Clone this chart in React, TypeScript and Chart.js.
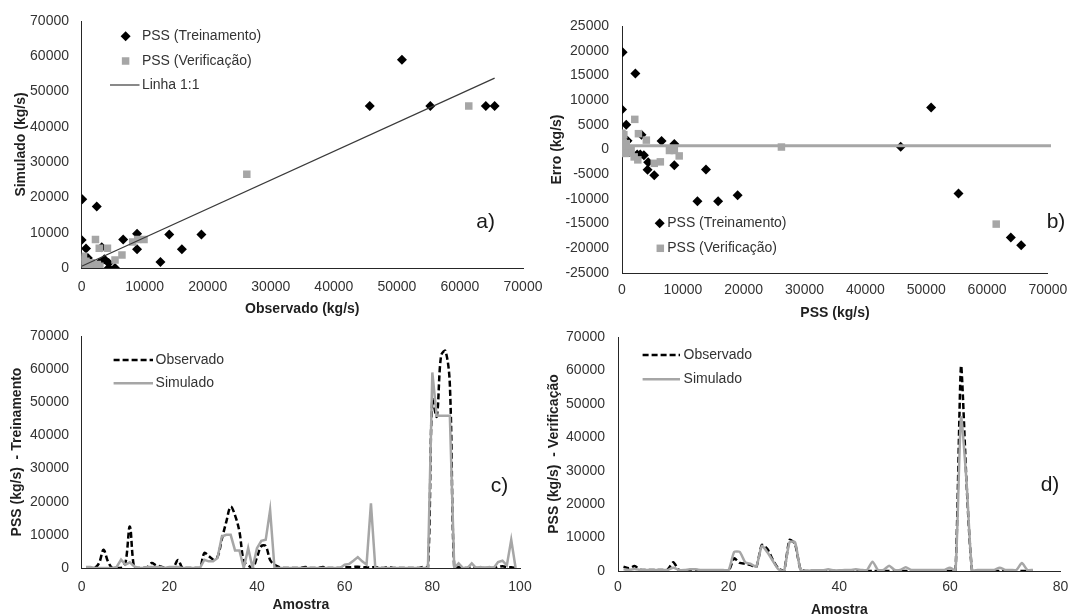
import React, { useEffect, useRef } from 'react';
import { Chart, registerables } from 'chart.js';

Chart.register(...registerables);

const FONT = "Arial, 'Liberation Sans', sans-serif";
const TICK_COLOR = '#333333';
const TITLE_COLOR = '#1f1f1f';
const AXIS_COLOR = '#262626';
const GRAY = '#a6a6a6';
const BLACK = '#000000';

// ---------- Panel a: Observado x Simulado ----------
const trainObsA = [100, 2400, 0, 700, 1000, 3200, 3600, 4300, 4300, 5300, 6600, 8800, 8800, 12500, 13900, 15900, 19000, 45700, 50800, 55300, 64100, 65500, 2800, 200, 600, 1500];
const trainSimA = [19500, 17400, 7900, 5500, 2800, 5900, 2500, 1400, 0, 0, 8100, 9700, 5300, 1700, 9500, 5300, 9500, 45900, 59000, 45900, 45900, 45900, 1400, 300, 200, 500];
const verObsA = [0, 0, 200, 400, 700, 1200, 2000, 2900, 1500, 300, 1000, 2500, 2200, 2800, 4100, 5300, 6400, 8100, 8900, 9900, 26200, 61400];
const verSimA = [2800, 1400, 2300, 500, 1900, 900, 500, 500, 1500, 3300, 300, 1000, 8100, 5600, 5600, 2300, 3700, 7400, 8100, 8100, 26600, 45900];
const fitX = [0, 65500];
const fitY = [500, 53800];

// ---------- Panel b: PSS x Erro ----------
const trainPssB = [100, 2200, 0, 700, 900, 3200, 3600, 4300, 4200, 5300, 6500, 8600, 8600, 12400, 13800, 15800, 19000, 45800, 50800, 55300, 63900, 65600, 2500, 3000, 300, 1200];
const trainErrB = [19700, 15400, 8100, 5000, 1750, 3000, -1150, -2600, -4100, -5200, 1700, 1100, -3200, -10500, -4050, -10500, -9250, 540, 8500, -8900, -17800, -19400, -1000, -1000, 200, -500];
const verPssB = [0, 0, 0, 200, 400, 700, 1200, 1500, 2000, 2600, 2100, 2700, 4000, 5300, 6300, 7800, 8600, 9400, 26200, 61500, 300, 1000, 500];
const verErrB = [3300, 2600, 1900, 1500, 200, 1200, -300, -200, -1500, -2100, 6100, 3200, 1900, -2800, -2500, -200, -200, -1300, 500, -15100, 3000, -700, -800];
const meanLineX = [0, 70500];
const meanLineY = [750, 750];

// ---------- Panel c: Treinamento (amostras 1..99) ----------
const obsTrainC = [
  0, 0, 0, 1500, 5500, 2000, 0, 0, 0, 1500,
  12500, 0, 0, 0, 300, 1500, 800, 500, 0, 0,
  300, 2400, 0, 0, 0, 0, 0, 4500, 3600, 2600,
  3300, 8800, 13900, 18500, 15900, 11000, 2000, 800, 0, 3200,
  6600, 6600, 2400, 1000, 300, 0, 0, 0, 0, 0,
  300, 0, 0, 0, 300, 0, 0, 0, 0, 300,
  200, 300, 400, 200, 200, 100, 300, 0, 0, 300,
  0, 0, 0, 0, 0, 0, 0, 300, 0, 50800,
  45700, 64100, 65500, 55300, 0, 300, 0, 0, 300, 0,
  0, 0, 0, 0, 300, 500, 300, 200, 0,
];
const simTrainC = [
  300, 300, 0, 0, 0, 0, 0, 300, 2500, 1000,
  1700, 500, 0, 0, 300, 300, 300, 300, 0, 300,
  300, 300, 0, 0, 0, 0, 0, 2500, 2000, 2000,
  3000, 9500, 10000, 10000, 5300, 5300, 0, 6000, 0, 6000,
  8200, 8500, 17500, 0, 0, 0, 0, 0, 0, 0,
  0, 0, 0, 0, 0, 0, 0, 0, 0, 1000,
  1200, 2200, 3300, 2000, 1000, 19500, 0, 0, 0, 0,
  0, 0, 0, 0, 0, 0, 0, 0, 0, 59000,
  45900, 45900, 45900, 45900, 0, 1400, 0, 0, 1400, 0,
  300, 0, 300, 0, 1800, 2200, 800, 8500, 0,
];

// ---------- Panel d: Verificação (amostras 1..75) ----------
const obsVerD = [
  1300, 800, 1500, 400, 300, 300, 300, 300, 500, 2600,
  300, 0, 200, 300, 200, 200, 200, 200, 0, 0,
  3800, 2400, 2200, 1800, 1200, 7800, 6600, 3300, 700, 0,
  9300, 8100, 400, 0, 0, 0, 0, 0, 0, 0,
  0, 0, 0, 0, 0, 0, 0, 0, 0, 0,
  0, 0, 0, 0, 0, 0, 0, 0, 0, 0,
  0, 61400, 26200, 0, 0, 0, 0, 0, 0, 0,
  0, 0, 0, 0, 0,
];
const simVerD = [
  500, 300, 600, 300, 300, 300, 300, 300, 300, 1000,
  300, 300, 500, 500, 300, 300, 300, 300, 300, 300,
  5700, 5700, 2600, 2100, 1300, 7500, 5600, 3000, 500, 0,
  8600, 8600, 300, 0, 200, 200, 200, 500, 200, 200,
  300, 300, 500, 300, 300, 2800, 300, 300, 1600, 300,
  300, 1100, 300, 300, 300, 300, 300, 300, 300, 1000,
  0, 45900, 26600, 0, 300, 300, 300, 300, 1000, 300,
  300, 300, 2400, 300, 300,
];

const pairs = (xs: number[], ys: number[]) => xs.map((x, i) => ({ x, y: ys[i] }));
const seq = (ys: number[]) => ys.map((y, i) => ({ x: i + 1, y }));

const decorPlugin = {
  id: 'decor',
  afterDraw(chart: any, _args: any, opts: any) {
    const { ctx, chartArea } = chart;
    const L = chartArea.left;
    const T = chartArea.top;
    ctx.save();
    for (const it of opts.legend || []) {
      const ds = chart.data.datasets[it.ds];
      const y = T + it.y;
      if (it.swatch === 'line') {
        ctx.beginPath();
        ctx.setLineDash(ds.borderDash || []);
        ctx.strokeStyle = ds.borderColor;
        ctx.lineWidth = ds.borderWidth;
        ctx.moveTo(L + it.x0, y);
        ctx.lineTo(L + it.x1, y);
        ctx.stroke();
        ctx.setLineDash([]);
      } else {
        const cx = L + it.x0;
        const r = ds.pointRadius;
        ctx.fillStyle = ds.backgroundColor;
        ctx.beginPath();
        if (ds.pointStyle === 'rectRot') {
          ctx.moveTo(cx - r, y);
          ctx.lineTo(cx, y - r);
          ctx.lineTo(cx + r, y);
          ctx.lineTo(cx, y + r);
          ctx.closePath();
        } else {
          const s = r * Math.SQRT1_2;
          ctx.rect(cx - s, y - s, 2 * s, 2 * s);
        }
        ctx.fill();
      }
      ctx.font = `14px ${FONT}`;
      ctx.fillStyle = TICK_COLOR;
      ctx.textAlign = 'left';
      ctx.textBaseline = 'middle';
      ctx.fillText(ds.label, L + it.tx, y);
    }
    if (opts.tag) {
      ctx.font = `21px ${FONT}`;
      ctx.fillStyle = '#1a1a1a';
      ctx.textAlign = 'center';
      ctx.textBaseline = 'middle';
      ctx.fillText(opts.tag.text, L + opts.tag.x, T + opts.tag.y);
    }
    ctx.restore();
  },
};

function scale(axis: 'x' | 'y', min: number, max: number, step: number, title: string, size: number, tickPad: number, titlePad: number) {
  return {
    type: 'linear',
    position: axis === 'x' ? 'bottom' : 'left',
    min,
    max,
    ticks: {
      stepSize: step,
      color: TICK_COLOR,
      font: { family: FONT, size: 14 },
      padding: tickPad,
      autoSkip: false,
      maxRotation: 0,
      callback: (v: any) => String(v),
    },
    grid: { display: false, drawTicks: false },
    border: { display: true, color: AXIS_COLOR, width: 1 },
    title: {
      display: true,
      text: title,
      color: TITLE_COLOR,
      font: { family: FONT, size: 14, weight: 'bold' },
      padding: axis === 'x' ? { top: 0, bottom: titlePad } : { top: titlePad, bottom: 0 },
    },
    afterFit: (s: any) => {
      if (axis === 'x') s.height = size;
      else s.width = size;
    },
  };
}

const W = 1076;
const H = 630;

function baseOptions(padding: any, scales: any, decor: any) {
  return {
    responsive: false,
    animation: false,
    events: [],
    layout: { padding },
    plugins: { legend: { display: false }, tooltip: { enabled: false }, decor },
    scales,
  };
}

function makeConfigs(): any[] {
  const diamond = (label: string, data: any, order: number) => ({
    label, data, order, showLine: false,
    pointStyle: 'rectRot', pointRadius: 5, backgroundColor: BLACK, borderColor: BLACK, borderWidth: 0,
  });
  const square = (label: string, data: any, order: number) => ({
    label, data, order, showLine: false,
    pointStyle: 'rect', pointRadius: 5.3, backgroundColor: GRAY, borderColor: GRAY, borderWidth: 0,
  });

  const a = {
    type: 'scatter',
    data: {
      datasets: [
        diamond('PSS (Treinamento)', pairs(trainObsA, trainSimA), 2),
        square('PSS (Verificação)', pairs(verObsA, verSimA), 1),
        { label: 'Linha 1:1', data: pairs(fitX, fitY), order: 0, showLine: true, pointRadius: 0, borderColor: '#3a3a3a', borderWidth: 1.2, backgroundColor: '#3a3a3a' },
      ],
    },
    options: baseOptions(
      { left: 0, top: 17, right: W - 523, bottom: H - 320 },
      {
        x: scale('x', 0, 70000, 10000, 'Observado (kg/s)', 52, 10.6, 2.6),
        y: scale('y', 0, 70000, 10000, 'Simulado (kg/s)', 81.6, 12.6, 12.3),
      },
      {
        legend: [
          { ds: 0, swatch: 'point', x0: 44, y: 15.3, tx: 60.3 },
          { ds: 1, swatch: 'point', x0: 44, y: 40, tx: 60.3 },
          { ds: 2, swatch: 'line', x0: 28.4, x1: 57.9, y: 64, tx: 60.3 },
        ],
        tag: { text: 'a)', x: 404, y: 201 },
      }
    ),
    plugins: [decorPlugin],
  };

  const b = {
    type: 'scatter',
    data: {
      datasets: [
        diamond('PSS (Treinamento)', pairs(trainPssB, trainErrB), 2),
        square('PSS (Verificação)', pairs(verPssB, verErrB), 1),
        { label: 'Erro médio', data: pairs(meanLineX, meanLineY), order: 0, showLine: true, pointRadius: 0, borderColor: GRAY, borderWidth: 3, backgroundColor: GRAY, clip: false },
      ],
    },
    options: baseOptions(
      { left: 538, top: 26, right: W - 1056, bottom: H - 324 },
      {
        x: scale('x', 0, 70000, 10000, 'PSS (kg/s)', 51, 8.6, 2.6),
        y: scale('y', -25000, 25000, 5000, 'Erro (kg/s)', 84, 13, 10.6),
      },
      {
        legend: [
          { ds: 0, swatch: 'point', x0: 37.7, y: 197.3, tx: 45.2 },
          { ds: 1, swatch: 'point', x0: 38.3, y: 222.3, tx: 45.2 },
        ],
        tag: { text: 'b)', x: 434, y: 196 },
      }
    ),
    plugins: [decorPlugin],
  };

  const obsStyle = (data: any, tension: number) => ({
    label: 'Observado', data, order: 1, pointRadius: 0, borderColor: BLACK, backgroundColor: BLACK,
    borderWidth: 2.5, borderDash: [6, 3], tension,
  });
  const simStyle = (data: any, tension: number) => ({
    label: 'Simulado', data, order: 0, pointRadius: 0, borderColor: GRAY, backgroundColor: GRAY,
    borderWidth: 2.5, tension,
  });

  const c = {
    type: 'line',
    data: { datasets: [obsStyle(seq(obsTrainC), 0.35), simStyle(seq(simTrainC), 0)] },
    options: baseOptions(
      { left: 0, top: 336, right: W - 520, bottom: H - 616 },
      {
        x: scale('x', 0, 100, 20, 'Amostra', 48, 10.6, 2.6),
        y: scale('y', 0, 70000, 10000, 'PSS (kg/s)  - Treinamento', 81.6, 12.6, 8.6),
      },
      {
        legend: [
          { ds: 0, swatch: 'line', x0: 32, x1: 71.4, y: 24, tx: 74 },
          { ds: 1, swatch: 'line', x0: 32, x1: 71.4, y: 47.3, tx: 74 },
        ],
        tag: { text: 'c)', x: 418, y: 150 },
      }
    ),
    plugins: [decorPlugin],
  };

  const d = {
    type: 'line',
    data: { datasets: [obsStyle(seq(obsVerD), 0.2), simStyle(seq(simVerD), 0.2)] },
    options: baseOptions(
      { left: 538, top: 337, right: W - 1066, bottom: H - 622 },
      {
        x: scale('x', 0, 80, 20, 'Amostra', 51, 7.6, 3.6),
        y: scale('y', 0, 70000, 10000, 'PSS (kg/s)  - Verificação', 80, 13, 7.3),
      },
      {
        legend: [
          { ds: 0, swatch: 'line', x0: 24.6, x1: 62, y: 18, tx: 65.6 },
          { ds: 1, swatch: 'line', x0: 24.6, x1: 62, y: 42.3, tx: 65.6 },
        ],
        tag: { text: 'd)', x: 432, y: 148 },
      }
    ),
    plugins: [decorPlugin],
  };

  return [a, b, c, d];
}

function Panel({ config }: { config: any }) {
  const ref = useRef<HTMLCanvasElement | null>(null);
  useEffect(() => {
    if (!ref.current) return;
    const chart = new Chart(ref.current, config);
    return () => chart.destroy();
  }, [config]);
  return (
    <canvas
      ref={ref}
      width={W}
      height={H}
      style={{ position: 'absolute', left: 0, top: 0, width: W, height: H }}
    />
  );
}

const CONFIGS = makeConfigs();

export default function App() {
  return (
    <div
      style={{
        position: 'fixed',
        left: 0,
        top: 0,
        width: 1076,
        height: 616,
        overflow: 'hidden',
        background: '#ffffff',
      }}
    >
      {CONFIGS.map((cfg, i) => (
        <Panel key={i} config={cfg} />
      ))}
    </div>
  );
}
